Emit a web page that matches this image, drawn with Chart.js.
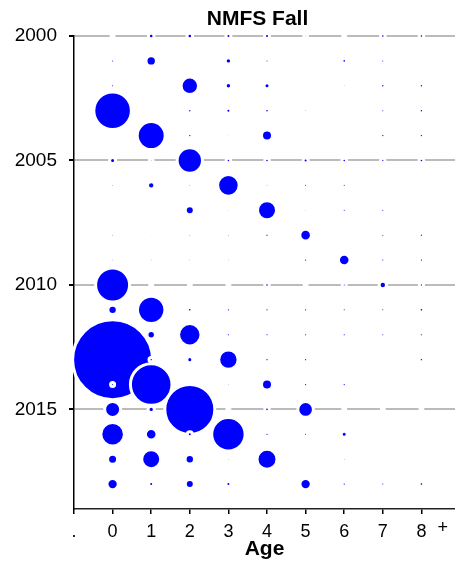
<!DOCTYPE html>
<html>
<head>
<meta charset="utf-8">
<script src="https://cdn.jsdelivr.net/npm/chart.js@4/dist/chart.umd.min.js"></script>
<style>
  body { margin: 0; background: #fff; }
</style>
</head>
<body>
<canvas id="bubblechart" width="455" height="563"></canvas>
<script>
// survey index by year (rows) and age (columns)
var years = [2000, 2001, 2002, 2003, 2004, 2005, 2006, 2007, 2008, 2009,
             2010, 2011, 2012, 2013, 2014, 2015, 2016, 2017, 2018];
var ages = [0, 1, 2, 3, 4, 5, 6, 7, 8];

var age0 = [0, 0.025, 0.025, 29.9, 0, 0.23, 0.009, 0, 0.009, 0.009, 24.0, 1.02, 0.025, 148.2, 0.025, 4.2, 10.6, 1.23, 1.76];
var age1 = [0.17, 1.37, 0, 0, 15.6, 0.009, 0.48, 0, 0.004, 0.009, 0, 14.9, 0.73, 0.049, 37.2, 0.29, 1.85, 6.4, 0.1];
var age2 = [0.17, 0, 5.2, 0.049, 0.049, 12.5, 0.009, 0.9, 0.009, 0.009, 0, 0.064, 9.4, 0.23, 0.025, 55.2, 0.1, 1.02, 0.9];
var age3 = [0.1, 0.29, 0.29, 0.1, 0.004, 0.064, 8.6, 0.004, 0.009, 0.009, 0, 0.036, 0.036, 6.7, 0.009, 0, 23.1, 0.009, 0.1];
var age4 = [0.1, 0.025, 0.23, 0.064, 1.6, 0.064, 0.009, 6.4, 0.036, 0, 0.064, 0.036, 0.036, 0.036, 1.6, 0.064, 0.036, 7.2, 0];
var age5 = [0.009, 0, 0, 0.009, 0, 0.1, 0.025, 0.004, 1.85, 0.036, 0, 0.036, 0.036, 0.036, 0.036, 4.0, 0.025, 0, 1.76];
var age6 = [0, 0.064, 0.004, 0, 0, 0.064, 0.025, 0.025, 0, 1.85, 0.025, 0.025, 0.036, 0, 0.036, 0, 0.23, 0.009, 0.036];
var age7 = [0.064, 0.025, 0.049, 0.025, 0.049, 0.036, 0, 0.025, 0.025, 0.025, 0.48, 0.025, 0.025, 0, 0, 0, 0, 0, 0.025];
var age8 = [0.064, 0, 0.049, 0.049, 0.049, 0.064, 0, 0, 0.036, 0.036, 0.036, 0.064, 0.036, 0.049, 0, 0, 0, 0, 0.064];

var xTicks = [-1, 0, 1, 2, 3, 4, 5, 6, 7, 8];
var yTicks = [2000, 2005, 2010, 2015];

var byAge = [age0, age1, age2, age3, age4, age5, age6, age7, age8];
var ring = 3;

// year by year, so later rows sit on top of earlier ones
var points = [];
for (var i = 0; i < years.length; i++) {
  for (var a = 0; a < ages.length; a++) {
    points.push({ x: ages[a], y: years[i], r: Math.sqrt(10 * byAge[a][i]) + ring / 2 });
  }
}

var font = "'Liberation Sans', Arial, sans-serif";

var extraText = {
  id: 'extraText',
  afterDraw: function (chart) {
    var ctx = chart.ctx;
    var x = chart.scales.x;
    ctx.save();
    ctx.fillStyle = '#000';
    ctx.textAlign = 'center';
    ctx.textBaseline = 'middle';
    ctx.font = 'bold 21px ' + font;
    ctx.fillText('NMFS Fall', 257.5, 19);
    ctx.font = '18px ' + font;
    ctx.fillText('+', x.getPixelForValue(8.55), chart.chartArea.bottom + 19);
    ctx.restore();
  }
};

var chart = new Chart(document.getElementById("bubblechart"), {
  type: 'bubble',
  data: {
    datasets: [{
      data: points,
      backgroundColor: '#0000ff',
      borderColor: '#ffffff',
      borderWidth: ring,
      clip: false
    }]
  },
  options: {
    responsive: false,
    animation: false,
    events: [],
    layout: { autoPadding: false, padding: { top: 36, right: 0, left: 0, bottom: 0 } },
    plugins: {
      legend: { display: false },
      tooltip: { enabled: false },
      title: { display: false }
    },
    scales: {
      x: {
        type: 'linear',
        min: -1,
        max: 8.87,
        afterBuildTicks: function (s) { s.ticks = xTicks.map(function (v) { return { value: v }; }); },
        afterFit: function (s) { s.height = 54; },
        grid: { drawOnChartArea: false, tickColor: '#000', tickLength: 5, lineWidth: 1.5 },
        border: { display: true, color: '#222', width: 1.5 },
        ticks: {
          color: '#000',
          padding: 9,
          maxRotation: 0,
          autoSkip: false,
          font: { family: font, size: 18, lineHeight: 1 },
          callback: function (v) { return v === -1 ? '.' : v; }
        },
        title: {
          display: true,
          text: 'Age',
          color: '#000',
          padding: { top: -2, bottom: 3 },
          font: { family: font, size: 21, weight: 'bold', lineHeight: 1 }
        }
      },
      y: {
        type: 'linear',
        reverse: true,
        min: 2000,
        max: 2019,
        afterBuildTicks: function (s) { s.ticks = yTicks.map(function (v) { return { value: v }; }); },
        afterFit: function (s) { s.width = 74; },
        grid: { color: '#bbbbbb', lineWidth: 2, tickColor: '#000', tickLength: 5 },
        border: { display: true, color: '#000', width: 1.5 },
        ticks: {
          color: '#000',
          padding: 12,
          font: { family: font, size: 19 },
          callback: function (v) { return v; }
        }
      }
    }
  },
  plugins: [extraText]
});
</script>
</body>
</html>
